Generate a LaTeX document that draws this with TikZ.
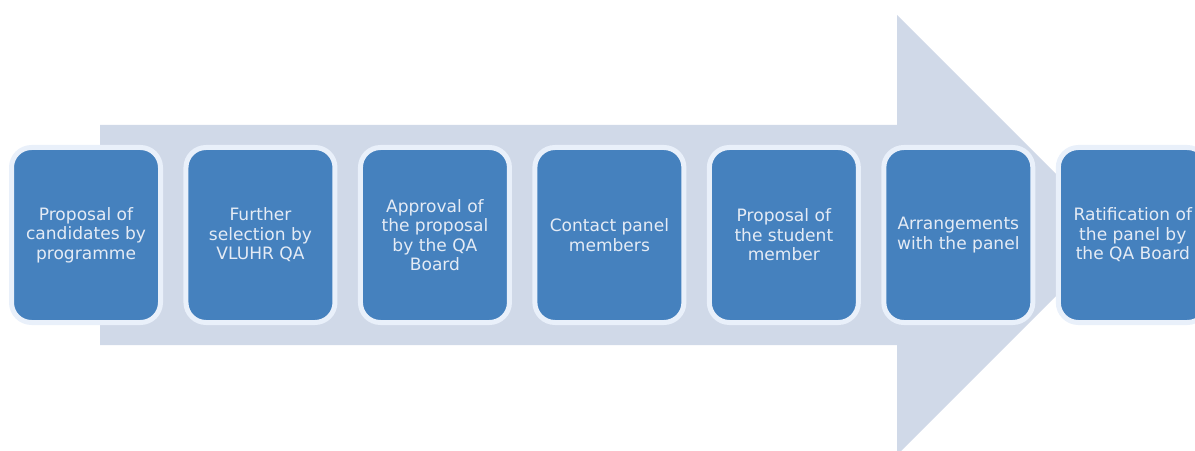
\documentclass[tikz,border=0pt]{standalone}
\usepackage{fontspec}
\setmainfont{DejaVu Sans}
\usetikzlibrary{positioning}
\definecolor{arrowgray}{HTML}{D0D9E8}
\definecolor{stepblue}{HTML}{4581BE}
\definecolor{stepedge}{HTML}{E9F0FA}
\definecolor{steptext}{HTML}{E4EBF5}
\tikzset{
  stepbox/.style={rectangle, rounded corners=15pt, fill=stepblue, draw=stepedge,
    line width=3.75pt, minimum width=111.75pt, minimum height=131.25pt,
    outer sep=0pt, align=center, text=steptext, inner sep=1pt,
    font=\fontsize{12.8}{14.6}\selectfont},
}
\begin{document}
\begin{tikzpicture}[x=0.75pt, y=0.75pt, node distance=19.1pt]
  \useasboundingbox (0,0) rectangle (1195,450);
  \clip (0,0) rectangle (1195,450);

  % Big background arrow
  \fill[arrowgray] (100,105) -- (100,325) -- (897,325) -- (897,435)
    -- (1117,215) -- (897,-5) -- (897,105) -- cycle;

  % Steps
  \node[stepbox] (prop) at (86,215) {Proposal of\\candidates by\\programme};
  \node[stepbox, right=of prop] (sel) {Further\\selection by\\VLUHR QA};
  \node[stepbox, right=of sel] (appr) {Approval of\\the proposal\\by the QA\\Board};
  \node[stepbox, right=of appr] (cont) {Contact panel\\members};
  \node[stepbox, right=of cont] (stud) {Proposal of\\the student\\member};
  \node[stepbox, right=of stud] (arr) {Arrangements\\with the panel};
  \node[stepbox, right=of arr] (rat) {Ratification of\\the panel by\\the QA Board};
\end{tikzpicture}
\end{document}
